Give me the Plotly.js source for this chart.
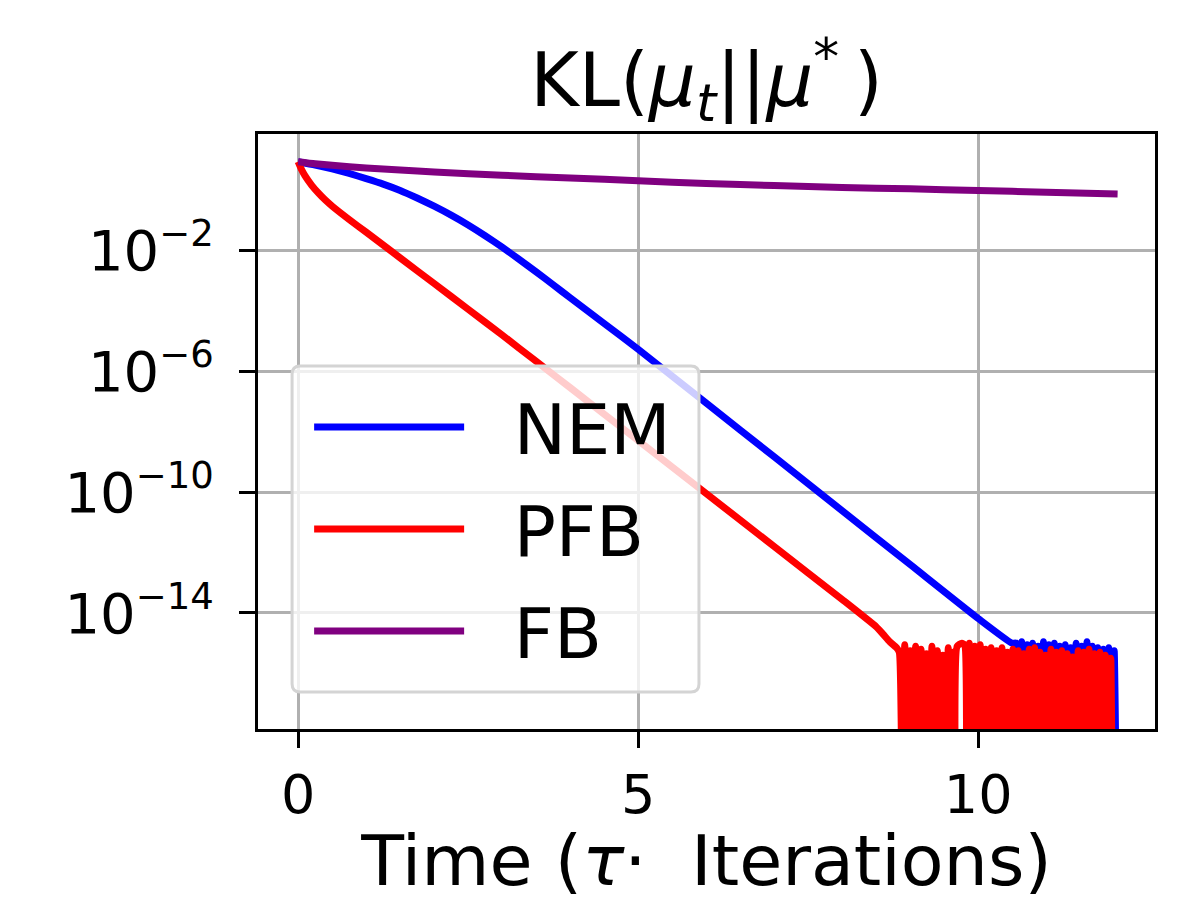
<!DOCTYPE html>
<html>
<head>
<meta charset="utf-8">
<script src="https://cdn.plot.ly/plotly-3.0.1.min.js"></script>
<style>
  html, body { margin: 0; padding: 0; background: #ffffff; }
  #chart { width: 1200px; height: 902px; }
</style>
</head>
<body>
<div id="chart"></div>
<script>
// ---------------- data ----------------
const seriesNames = ["NEM", "PFB", "FB"];
const FLOOR = 1e-20; // numerical underflow (KL reaches zero)

// y tick values and exponent labels
const yTickVals = [1e-2, 1e-6, 1e-10, 1e-14];
const yTickExp = ["−2", "−6", "−10", "−14"];

// FB
const fbT = [0, 0.25, 0.5, 1, 1.5, 2, 3, 4, 5, 6, 7, 8, 9, 10, 11, 12.05];
const fbV = [8.3, 7.1, 6.3, 5.1, 4.4, 3.8, 2.95, 2.4, 1.95, 1.58, 1.35, 1.17, 1.05, 0.93, 0.81, 0.71];

// NEM (smooth part)
const nemT = [0, 0.25, 0.5, 0.75, 1.0, 1.25, 1.5, 1.75, 2.0, 2.25, 2.5, 2.75, 3.0, 3.25, 3.5, 3.75, 4.0, 4.5, 5.0, 6.0, 7.0, 8.0, 9.0, 10.0, 10.5];
const nemV = [8.3, 6.46, 4.79, 3.39, 2.29, 1.51, 0.933, 0.525, 0.280, 0.142, 0.0671, 0.0296, 0.01236, 4.92e-3, 1.89e-3, 7.11e-4, 2.64e-4, 3.73e-5, 5.27e-6, 8.7e-8, 1.45e-9, 2.4e-11, 4.0e-13, 6.6e-15, 1.0e-15];
// NEM noisy tail (round-off level, dropping to zero)
const nemTailT = [10.56, 10.60, 10.64, 10.68, 10.72, 10.76, 10.80, 10.84, 10.88, 10.92, 10.96, 11.00, 11.04, 11.08, 11.12, 11.16, 11.20, 11.24, 11.28, 11.32, 11.36, 11.40, 11.44, 11.48, 11.52, 11.56, 11.60, 11.64, 11.68, 11.72, 11.76, 11.80, 11.84, 11.88, 11.92, 11.96, 12.00, 12.03];
const nemTailV = [1.0e-15, FLOOR, 1.12e-15, FLOOR, 8.9e-16, FLOOR, 1.0e-15, FLOOR, 7.9e-16, FLOOR, 1.12e-15, FLOOR, 8.9e-16, FLOOR, 1.0e-15, FLOOR, 7.9e-16, FLOOR, 8.9e-16, FLOOR, 7.1e-16, FLOOR, 1.0e-15, FLOOR, 7.9e-16, FLOOR, 1.12e-15, FLOOR, 7.9e-16, FLOOR, 7.1e-16, FLOOR, 6.3e-16, FLOOR, 7.1e-16, FLOOR, 5.6e-16, FLOOR];

// PFB (smooth part)
const pfbT = [0, 0.05, 0.1, 0.2, 0.3, 0.4, 0.5, 0.75, 1.0, 1.5, 2.0, 2.5, 3.0, 3.5, 4.0, 5.0, 6.0, 7.0, 8.0, 8.5, 8.6, 8.7, 8.8];
const pfbV = [8.3, 4.57, 2.88, 1.38, 0.759, 0.447, 0.282, 0.102, 0.0389, 5.5e-3, 7.8e-4, 1.10e-4, 1.55e-5, 2.09e-6, 2.82e-7, 5.0e-9, 8.9e-11, 1.58e-12, 2.8e-14, 3.5e-15, 2.0e-15, 1.12e-15, 7.1e-16];
// PFB noisy tail
const pfbTailT = [8.84, 8.88, 8.92, 8.96, 9.00, 9.04, 9.08, 9.12, 9.16, 9.20, 9.24, 9.28, 9.32, 9.36, 9.40, 9.44, 9.48, 9.52, 9.56, 9.60, 9.63, 9.66, 9.69, 9.76, 9.80,
  9.83, 9.87, 9.91, 9.95, 9.99, 10.03, 10.07, 10.11, 10.15, 10.19, 10.23, 10.27, 10.31, 10.35, 10.39, 10.43, 10.47, 10.51, 10.55, 10.59, 10.63, 10.67, 10.71, 10.75, 10.79, 10.83, 10.87, 10.91, 10.95, 10.99,
  11.03, 11.07, 11.11, 11.15, 11.19, 11.23, 11.27, 11.31, 11.35, 11.39, 11.43, 11.47, 11.51, 11.55, 11.59, 11.63, 11.67, 11.71, 11.75, 11.79, 11.83, 11.87, 11.91, 11.95, 11.97];
const pfbTailV = [5.0e-16, FLOOR, 8.9e-16, FLOOR, 5.6e-16, FLOOR, 7.9e-16, FLOOR, 6.3e-16, FLOOR, 4.5e-16, FLOOR, 7.9e-16, FLOOR, 5.6e-16, FLOOR, 4.0e-16, FLOOR, 7.1e-16, FLOOR, 5.0e-16, FLOOR, 7.9e-16, 1.0e-15, 8.9e-16,
  FLOOR, 1.0e-15, FLOOR, 7.9e-16, FLOOR, 8.9e-16, FLOOR, 6.3e-16, FLOOR, 7.1e-16, FLOOR, 5.6e-16, FLOOR, 7.1e-16, FLOOR, 5.0e-16, FLOOR, 6.3e-16, FLOOR, 5.6e-16, FLOOR, 4.5e-16, FLOOR, 6.3e-16, FLOOR, 7.1e-16, FLOOR, 5.0e-16, FLOOR, 4.0e-16,
  FLOOR, 6.3e-16, FLOOR, 5.0e-16, FLOOR, 5.6e-16, FLOOR, 4.5e-16, FLOOR, 3.5e-16, FLOOR, 5.6e-16, FLOOR, 5.0e-16, FLOOR, 6.3e-16, FLOOR, 4.5e-16, FLOOR, 5.0e-16, FLOOR, 4.0e-16, FLOOR, 3.2e-16, FLOOR];

const colors = { NEM: "#0000ff", PFB: "#ff0000", FB: "#800080" };

// ---------------- traces ----------------
const FONT = "DejaVu Sans, Verdana, sans-serif";
const LW = 7;
const PAD = "\u00a0\u00a0";
function mk(name, x, y, group) {
  return { type: "scatter", mode: "lines", name: PAD + name, x: x, y: y,
           legendgroup: group,
           line: { color: colors[name], width: LW, shape: "spline", smoothing: 0.5 } };
}
const traces = [
  mk("NEM", nemT.concat(nemTailT), nemV.concat(nemTailV), "g1"),
  mk("PFB", pfbT.concat(pfbTailT), pfbV.concat(pfbTailV), "g2"),
  mk("FB", fbT, fbV, "g3")
];

// rounded, semi-transparent legend frame (paper coords)
const lx0 = 0.038, lx1 = 0.4916, ly0 = 0.0622, ly1 = 0.6101, rx = 0.009, ry = 0.0135;
const framePath = `M${lx0+rx},${ly0} L${lx1-rx},${ly0} Q${lx1},${ly0} ${lx1},${ly0+ry} L${lx1},${ly1-ry} Q${lx1},${ly1} ${lx1-rx},${ly1} L${lx0+rx},${ly1} Q${lx0},${ly1} ${lx0},${ly1-ry} L${lx0},${ly0+ry} Q${lx0},${ly0} ${lx0+rx},${ly0} Z`;

const layout = {
  width: 1200, height: 902,
  margin: { l: 258, r: 45, t: 134, b: 173, pad: 0 },
  paper_bgcolor: "#ffffff", plot_bgcolor: "#ffffff",
  font: { family: FONT, color: "#000000" },
  showlegend: true,
  title: {
    text: "KL(<i>μ</i><sub><i>t</i></sub>||<i>μ</i><sup>*</sup>\u2009)",
    font: { family: FONT, size: 74, color: "#000" },
    x: 0.5, xref: "paper", xanchor: "center",
    y: 1 - 80 / 902, yref: "container", yanchor: "middle"
  },
  xaxis: {
    range: [-0.59, 12.60], tick0: 0, dtick: 5,
    showgrid: true, gridcolor: "#b0b0b0", gridwidth: 3, zeroline: false,
    showline: true, linecolor: "#000", linewidth: 3, mirror: true,
    ticks: "outside", ticklen: 16, tickwidth: 3, tickcolor: "#000",
    ticklabelstandoff: 0,
    tickfont: { family: FONT, size: 54, color: "#000" },
    title: { text: "Time (<i>τ</i>·  Iterations)", font: { family: FONT, size: 70, color: "#000" }, standoff: 60 }
  },
  yaxis: {
    type: "log", range: [-17.835, 1.835],
    tickmode: "array", tickvals: yTickVals,
    ticktext: yTickExp.map(e => "10<sup><span style='font-size:37px'>" + e + "</span></sup>"),
    showgrid: true, gridcolor: "#b0b0b0", gridwidth: 3, zeroline: false,
    showline: true, linecolor: "#000", linewidth: 3, mirror: true,
    ticks: "outside", ticklen: 16, tickwidth: 3, tickcolor: "#000",
    ticklabelstandoff: 14,
    tickfont: { family: FONT, size: 56, color: "#000" }
  },
  legend: {
    x: 0.057, y: 0.595, xanchor: "left", yanchor: "top",
    bgcolor: "rgba(0,0,0,0)", borderwidth: 0,
    font: { family: FONT, size: 70, color: "#000" },
    itemwidth: 150, tracegroupgap: 8, traceorder: "grouped"
  },
  shapes: [{
    type: "path", xref: "paper", yref: "paper", layer: "above",
    path: framePath, fillcolor: "rgba(255,255,255,0.8)",
    line: { color: "#d4d4d4", width: 3 }
  }]
};

Plotly.newPlot("chart", traces, layout, { displayModeBar: false, staticPlot: true });
</script>
</body>
</html>
